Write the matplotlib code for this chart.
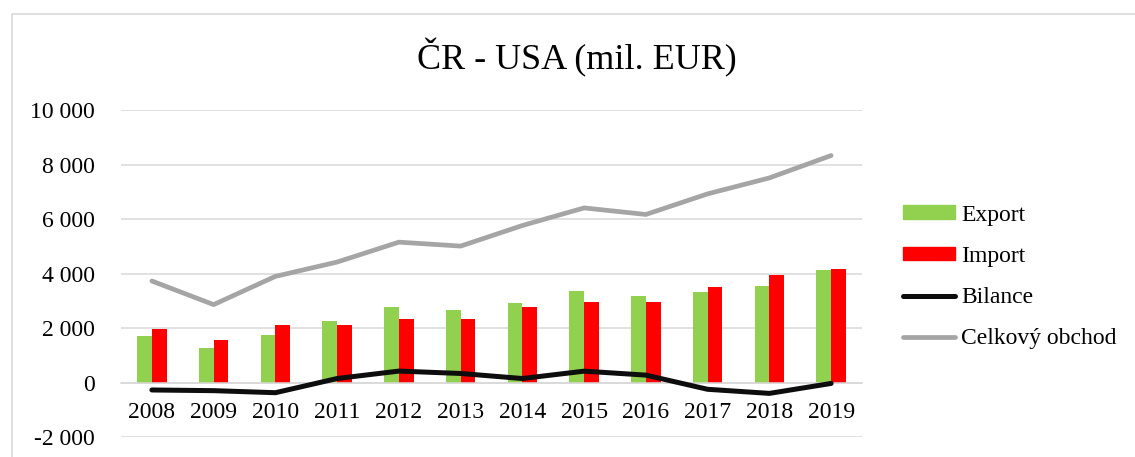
import matplotlib
matplotlib.use("Agg")
import matplotlib.pyplot as plt
from matplotlib.lines import Line2D
from matplotlib.patches import Patch
from matplotlib.ticker import FuncFormatter, FixedLocator
import numpy as np

years = ["2008", "2009", "2010", "2011", "2012", "2013", "2014", "2015", "2016", "2017", "2018", "2019"]
export_vals = [1720, 1280, 1745, 2260, 2770, 2650, 2940, 3355, 3170, 3330, 3540, 4125]
import_vals = [1975, 1560, 2110, 2110, 2340, 2330, 2795, 2975, 2975, 3525, 3940, 4170]
bilance_vals = [-265, -290, -365, 155, 428, 340, 155, 425, 280, -240, -390, -25]
celkovy_vals = [3730, 2865, 3900, 4425, 5155, 5010, 5765, 6410, 6170, 6925, 7510, 8330]
yticks = [-2000, 0, 2000, 4000, 6000, 8000, 10000]

plt.rcParams['font.family'] = ['Liberation Serif', 'DejaVu Serif']

fig = plt.figure(figsize=(11.35, 4.57), dpi=100)
ax = fig.add_axes([121/1135, 1-437.3/457, 741/1135, (437.3-110)/457])

x = np.arange(len(years))
w = 0.24
ax.bar(x - w/2, export_vals, width=w, color='#92D050', zorder=2, label='Export')
ax.bar(x + w/2, import_vals, width=w, color='#FF0000', zorder=2, label='Import')
ax.plot(x, bilance_vals, color='#0D0D0D', lw=3.6, solid_capstyle='round', solid_joinstyle='round', zorder=3, label='Bilance')
ax.plot(x, celkovy_vals, color='#A5A5A5', lw=3.4, solid_capstyle='round', solid_joinstyle='round', zorder=3, label='Celkový obchod')

ax.set_xlim(-0.5, len(years) - 0.5)
ax.set_ylim(-2000, 10000)
ax.yaxis.set_major_locator(FixedLocator(yticks))
ax.yaxis.set_major_formatter(FuncFormatter(lambda v, p: f"{int(v):,}".replace(",", " ")))
ax.grid(axis='y', color='#D9D9D9', lw=1.1, zorder=0)
ax.set_axisbelow(True)
for s in ['top', 'right', 'left']:
    ax.spines[s].set_visible(False)
ax.spines['bottom'].set_position(('data', 0))
ax.spines['bottom'].set_color('#D9D9D9')
ax.spines['bottom'].set_linewidth(1.1)
ax.set_xticks(x)
ax.set_xticklabels(years)
ax.tick_params(axis='x', length=0, pad=14, labelsize=17)
ax.tick_params(axis='y', length=0, pad=19, labelsize=17)

fig.text(577/1135, 1-58/457, "ČR - USA (mil. EUR)", ha='center', va='center', fontsize=26)

handles = [Patch(color='#92D050'), Patch(color='#FF0000'),
           Line2D([], [], color='#0D0D0D', lw=3.6, solid_capstyle='round'),
           Line2D([], [], color='#A5A5A5', lw=3.4, solid_capstyle='round')]
labels = ['Export', 'Import', 'Bilance', 'Celkový obchod']
fig.legend(handles, labels, loc='center left', bbox_to_anchor=(891/1135, 1-277/457),
           frameon=False, fontsize=17, handlelength=2.2, handleheight=0.5,
           handletextpad=0.27, labelspacing=0.86, borderpad=0)

fig.add_artist(Line2D([11.5/1135, 11.5/1135, 1.0], [0, 1-13.5/457, 1-13.5/457],
                      transform=fig.transFigure, color='#D9D9D9', lw=1.2))

fig.savefig('out.png', dpi=100)
